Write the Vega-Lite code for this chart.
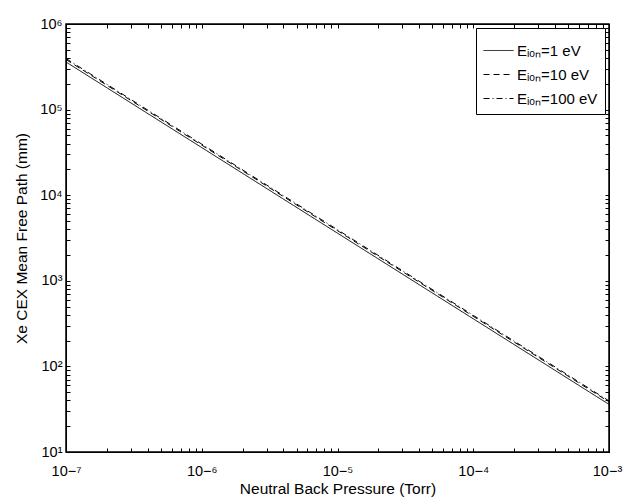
{
  "$schema": "https://vega.github.io/schema/vega-lite/v6.json",
  "width": 543,
  "height": 428,
  "autosize": {"type": "none"},
  "padding": {"left": 66, "top": 24, "right": 14, "bottom": 50},
  "background": "white",
  "config": {
    "font": "Liberation Sans",
    "view": {"stroke": "black", "strokeWidth": 1.5},
    "axis": {"grid": false, "labelFont": "Liberation Sans", "titleFont": "Liberation Sans", "labelColor": "black", "titleColor": "black", "domainColor": "black", "titleFontWeight": "normal", "labelFontSize": 14.5, "titleFontSize": 15.5}
  },
  "data": {
    "values": [
      {"p": 1e-7, "mfp": 360000, "series": "Eᵢₒₙ=1 eV"},
      {"p": 1e-6, "mfp": 36000, "series": "Eᵢₒₙ=1 eV"},
      {"p": 1e-5, "mfp": 3600, "series": "Eᵢₒₙ=1 eV"},
      {"p": 1e-4, "mfp": 360, "series": "Eᵢₒₙ=1 eV"},
      {"p": 1e-3, "mfp": 36, "series": "Eᵢₒₙ=1 eV"},
      {"p": 1e-7, "mfp": 385000, "series": "Eᵢₒₙ=10 eV"},
      {"p": 1e-6, "mfp": 38500, "series": "Eᵢₒₙ=10 eV"},
      {"p": 1e-5, "mfp": 3850, "series": "Eᵢₒₙ=10 eV"},
      {"p": 1e-4, "mfp": 385, "series": "Eᵢₒₙ=10 eV"},
      {"p": 1e-3, "mfp": 38.5, "series": "Eᵢₒₙ=10 eV"},
      {"p": 1e-7, "mfp": 395000, "series": "Eᵢₒₙ=100 eV"},
      {"p": 1e-6, "mfp": 39500, "series": "Eᵢₒₙ=100 eV"},
      {"p": 1e-5, "mfp": 3950, "series": "Eᵢₒₙ=100 eV"},
      {"p": 1e-4, "mfp": 395, "series": "Eᵢₒₙ=100 eV"},
      {"p": 1e-3, "mfp": 39.5, "series": "Eᵢₒₙ=100 eV"}
    ]
  },
  "resolve": {"scale": {"x": "independent", "y": "independent"}},
  "layer": [
    {
      "mark": {"type": "line", "color": "black", "strokeWidth": 1, "clip": true},
      "encoding": {
        "x": {
          "field": "p", "type": "quantitative",
          "scale": {"type": "log", "domain": [1e-7, 1e-3], "nice": false},
          "axis": {
            "orient": "bottom",
            "title": "Neutral Back Pressure (Torr)",
            "titlePadding": 4,
            "values": [1e-7,2e-7,3e-7,4e-7,5e-7,6e-7,7e-7,8e-7,9e-7,1e-6,2e-6,3e-6,4e-6,5e-6,6e-6,7e-6,8e-6,9e-6,1e-5,2e-5,3e-5,4e-5,5e-5,6e-5,7e-5,8e-5,9e-5,1e-4,2e-4,3e-4,4e-4,5e-4,6e-4,7e-4,8e-4,9e-4,1e-3],
            "labelExpr": "abs(log(datum.value)/LN10 - round(log(datum.value)/LN10)) < 0.001 ? '10' + replace(replace(replace(replace(replace(replace(format(round(log(datum.value)/LN10),'d'),'-','⁻'),'7','⁷'),'6','⁶'),'5','⁵'),'4','⁴'),'3','³') : ''",
            "labelFlush": false,
            "labelOverlap": false,
            "labelPadding": 16,
            "labelOffset": {"condition": {"test": "datum.value > 5e-4", "value": -2}, "value": 0},
            "ticks": true,
            "tickColor": "black",
            "tickWidth": 1,
            "tickSize": -4
          }
        },
        "y": {
          "field": "mfp", "type": "quantitative",
          "scale": {"type": "log", "domain": [10, 1000000], "nice": false},
          "axis": {
            "orient": "left",
            "title": "Xe CEX Mean Free Path (mm)",
            "titlePadding": 10,
            "values": [10,20,30,40,50,60,70,80,90,100,200,300,400,500,600,700,800,900,1000,2000,3000,4000,5000,6000,7000,8000,9000,10000,20000,30000,40000,50000,60000,70000,80000,90000,100000,200000,300000,400000,500000,600000,700000,800000,900000,1000000],
            "labelExpr": "abs(log(datum.value)/LN10 - round(log(datum.value)/LN10)) < 0.001 ? '10' + replace(replace(replace(replace(replace(replace(format(round(log(datum.value)/LN10),'d'),'1','¹'),'2','²'),'3','³'),'4','⁴'),'5','⁵'),'6','⁶') : ''",
            "labelFlush": false,
            "labelOverlap": false,
            "labelPadding": 8,
            "ticks": true,
            "tickColor": "black",
            "tickWidth": 1,
            "tickSize": -4
          }
        },
        "strokeDash": {
          "field": "series", "type": "nominal",
          "scale": {"domain": ["Eᵢₒₙ=1 eV", "Eᵢₒₙ=10 eV", "Eᵢₒₙ=100 eV"], "range": [[1, 0], [6, 4], [6, 3, 1, 3]]},
          "legend": {
            "title": null,
            "orient": "top-right",
            "offset": 4,
            "strokeColor": "black",
            "fillColor": "white",
            "padding": 7,
            "labelFontSize": 15,
            "labelFont": "Liberation Sans",
            "labelColor": "black",
            "labelOffset": 3,
            "symbolType": "stroke",
            "symbolSize": 900,
            "symbolStrokeColor": "black",
            "symbolStrokeWidth": 1,
            "rowPadding": 0,
            "labelLimit": 200
          }
        }
      }
    },
    {
      "mark": {"type": "point", "opacity": 0},
      "encoding": {
        "x": {
          "field": "p", "type": "quantitative",
          "scale": {"type": "log", "domain": [1e-7, 1e-3], "nice": false},
          "axis": {
            "orient": "top", "title": null, "labels": false,
            "values": [1e-7,2e-7,3e-7,4e-7,5e-7,6e-7,7e-7,8e-7,9e-7,1e-6,2e-6,3e-6,4e-6,5e-6,6e-6,7e-6,8e-6,9e-6,1e-5,2e-5,3e-5,4e-5,5e-5,6e-5,7e-5,8e-5,9e-5,1e-4,2e-4,3e-4,4e-4,5e-4,6e-4,7e-4,8e-4,9e-4,1e-3],
            "ticks": true,
            "tickColor": "black",
            "tickWidth": 1,
            "tickSize": -4
          }
        },
        "y": {
          "field": "mfp", "type": "quantitative",
          "scale": {"type": "log", "domain": [10, 1000000], "nice": false},
          "axis": {
            "orient": "right", "title": null, "labels": false,
            "values": [10,20,30,40,50,60,70,80,90,100,200,300,400,500,600,700,800,900,1000,2000,3000,4000,5000,6000,7000,8000,9000,10000,20000,30000,40000,50000,60000,70000,80000,90000,100000,200000,300000,400000,500000,600000,700000,800000,900000,1000000],
            "ticks": true,
            "tickColor": "black",
            "tickWidth": 1,
            "tickSize": -4
          }
        }
      }
    }
  ]
}
